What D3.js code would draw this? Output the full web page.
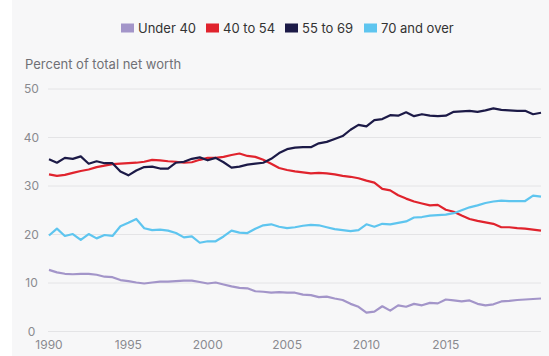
<!DOCTYPE html>
<html>
<head>
<meta charset="utf-8">
<script src="https://cdn.jsdelivr.net/npm/d3@7"></script>
<style>
  body { margin: 0; background: #fff; }
  svg text { font-family: Inter, "Noto Sans", sans-serif; }
</style>
</head>
<body>
<div id="chart"></div>
<script>
var width = 549, height = 356;

// half-yearly observations, 1990 to 2021
var periods = d3.range(1990, 2021.01, 0.5);

var seriesNames = ["Under 40", "40 to 54", "55 to 69", "70 and over"];
var colors = ["#a395c9", "#e0232d", "#1c1a47", "#5ec5ef"];

var under40 = [12.7, 12.2, 11.9, 11.8, 11.9, 11.9, 11.7, 11.3, 11.2, 10.6, 10.4, 10.1, 9.9, 10.1, 10.3, 10.3,
  10.4, 10.5, 10.5, 10.2, 9.9, 10.1, 9.7, 9.3, 9.0, 8.9, 8.3, 8.2, 8.0, 8.1, 8.0, 8.0, 7.6, 7.5, 7.1, 7.2,
  6.8, 6.5, 5.7, 5.1, 3.9, 4.1, 5.2, 4.3, 5.4, 5.1, 5.7, 5.4, 5.9, 5.8, 6.6, 6.4, 6.2, 6.4, 5.7, 5.4,
  5.6, 6.2, 6.3, 6.5, 6.6, 6.7, 6.8];
var age40to54 = [32.4, 32.1, 32.3, 32.7, 33.1, 33.4, 33.9, 34.2, 34.5, 34.6, 34.7, 34.8, 35.0, 35.4, 35.3, 35.1,
  35.0, 34.8, 34.9, 35.4, 35.8, 35.8, 36.0, 36.4, 36.7, 36.2, 36.0, 35.4, 34.6, 33.7, 33.3, 33.0, 32.8, 32.6, 32.7, 32.6,
  32.4, 32.1, 31.9, 31.6, 31.1, 30.7, 29.4, 29.1, 28.1, 27.4, 26.8, 26.4, 26.0, 26.1, 25.1, 24.7, 23.9, 23.2, 22.8, 22.5,
  22.2, 21.5, 21.5, 21.3, 21.2, 21.0, 20.8];
var age55to69 = [35.5, 34.8, 35.8, 35.6, 36.1, 34.6, 35.1, 34.7, 34.7, 33.0, 32.2, 33.2, 33.9, 34.0, 33.6, 33.6,
  34.8, 35.0, 35.6, 35.9, 35.3, 35.8, 34.9, 33.8, 34.0, 34.4, 34.6, 34.8, 35.6, 36.8, 37.6, 37.9, 38.0, 38.0, 38.8, 39.1,
  39.7, 40.3, 41.6, 42.6, 42.3, 43.6, 43.8, 44.6, 44.5, 45.2, 44.4, 44.8, 44.5, 44.4, 44.5, 45.3, 45.4, 45.5, 45.3, 45.6,
  46.0, 45.7, 45.6, 45.5, 45.5, 44.8, 45.1];
var age70plus = [19.8, 21.2, 19.7, 20.1, 18.9, 20.1, 19.2, 19.9, 19.7, 21.7, 22.4, 23.2, 21.3, 20.9, 21.0, 20.8,
  20.3, 19.4, 19.6, 18.3, 18.6, 18.6, 19.6, 20.8, 20.4, 20.3, 21.2, 21.9, 22.1, 21.6, 21.3, 21.5, 21.8, 22.0, 21.9, 21.5,
  21.1, 20.9, 20.7, 20.9, 22.1, 21.6, 22.2, 22.1, 22.4, 22.7, 23.5, 23.6, 23.9, 24.0, 24.1, 24.4, 25.0, 25.6, 26.0, 26.5,
  26.8, 27.0, 26.9, 26.9, 26.9, 28.0, 27.8];

var yTicks = [0, 10, 20, 30, 40, 50];
var xTicks = [1990, 1995, 2000, 2005, 2010, 2015];

var allSeries = [under40, age40to54, age55to69, age70plus];

var svg = d3.select("#chart").append("svg")
    .attr("width", width)
    .attr("height", height);

// panel background
svg.append("rect")
    .attr("x", 12).attr("y", 0)
    .attr("width", width - 12).attr("height", height)
    .attr("fill", "#f7f7f8");

var x = d3.scaleLinear().domain([1990, 2021]).range([49, 541]);
var y = d3.scaleLinear().domain([0, 50]).range([331.5, 89]);

// gridlines
svg.selectAll(".grid")
    .data(yTicks)
    .enter().append("line")
      .attr("x1", 48).attr("x2", 541)
      .attr("y1", function(d) { return y(d); })
      .attr("y2", function(d) { return y(d); })
      .attr("stroke", "#e4e4e6")
      .attr("stroke-width", 1);

// y labels
svg.selectAll(".ylab")
    .data(yTicks)
    .enter().append("text")
      .attr("x", 31.5)
      .attr("y", function(d) { return y(d); })
      .attr("dy", "0.35em")
      .attr("text-anchor", "middle")
      .attr("font-size", 12)
      .attr("fill", "#8a8a8f")
      .text(function(d) { return d; });

// x labels
svg.selectAll(".xlab")
    .data(xTicks)
    .enter().append("text")
      .attr("x", function(d) { return x(d); })
      .attr("y", 345)
      .attr("dy", "0.35em")
      .attr("text-anchor", "middle")
      .attr("font-size", 12)
      .attr("fill", "#8a8a8f")
      .text(function(d) { return d; });

// axis title
svg.append("text")
    .attr("x", 25).attr("y", 64)
    .attr("dy", "0.35em")
    .attr("font-size", 13)
    .attr("fill", "#707075")
    .text("Percent of total net worth");

var line = d3.line()
    .x(function(d, i) { return x(periods[i]); })
    .y(function(d) { return y(d); });

svg.selectAll(".series")
    .data(allSeries)
    .enter().append("path")
      .attr("d", line)
      .attr("fill", "none")
      .attr("stroke", function(d, i) { return colors[i]; })
      .attr("stroke-width", 2.2)
      .attr("stroke-linejoin", "round");

// legend
var legendX = [121, 206, 285, 364];
var legend = svg.selectAll(".legend")
    .data(seriesNames)
    .enter().append("g")
      .attr("transform", function(d, i) { return "translate(" + legendX[i] + ",28)"; });

legend.append("rect")
    .attr("x", 0).attr("y", -4.5)
    .attr("width", 13).attr("height", 9)
    .attr("fill", function(d, i) { return colors[i]; });

legend.append("text")
    .attr("x", 17)
    .attr("dy", "0.35em")
    .attr("font-size", 13)
    .attr("fill", "#333")
    .text(function(d) { return d; });
</script>
</body>
</html>
